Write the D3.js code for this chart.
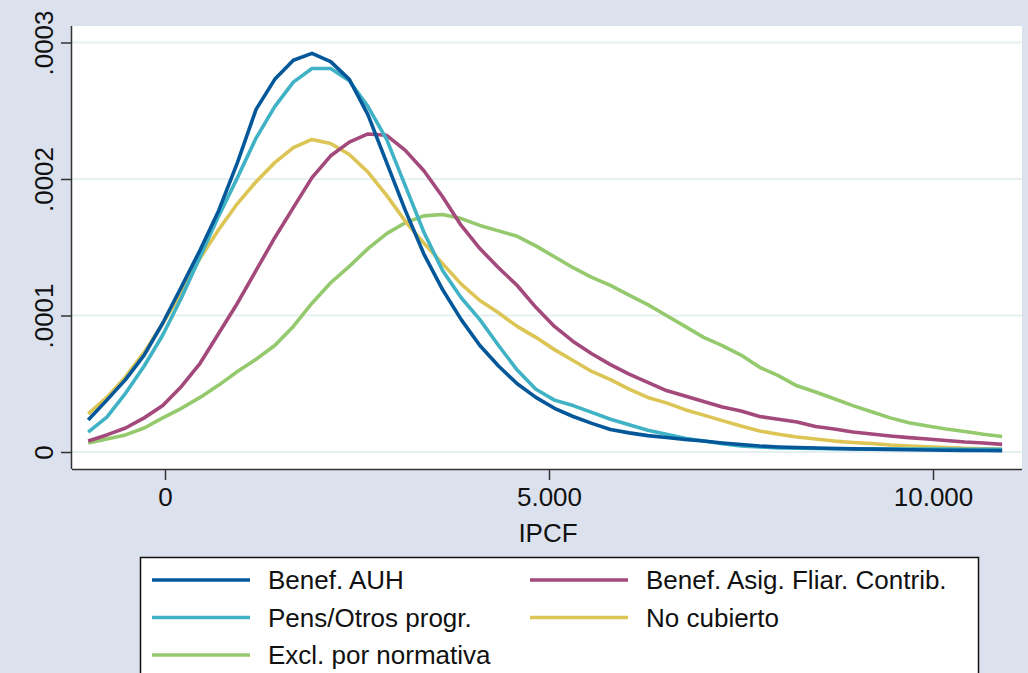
<!DOCTYPE html>
<html>
<head>
<meta charset="utf-8">
<script src="https://cdn.jsdelivr.net/npm/d3@7"></script>
<style>
html,body{margin:0;padding:0;background:#dce1ee;}
svg{display:block;font-family:"Liberation Sans",Arial,Helvetica,sans-serif;}
</style>
</head>
<body>
<svg id="chart" width="1028" height="673"></svg>
<script>
// ---- data ----
const xGrid = [-1000,-757,-514,-271,-29,214,457,700,943,1186,1429,1671,1914,2157,2400,2643,2886,3129,3371,3614,3857,4100,4343,4586,4829,5071,5314,5557,5800,6043,6286,6529,6771,7014,7257,7500,7743,7986,8229,8471,8714,8957,9200,9443,9686,9929,10171,10414,10657,10900];

const benefAUH = [2.34e-5,3.8e-5,5.3e-5,7.1e-5,9.45e-5,1.21e-4,1.48e-4,1.77e-4,2.12e-4,2.51e-4,2.73e-4,2.87e-4,2.92e-4,2.86e-4,2.73e-4,2.47e-4,2.12e-4,1.77e-4,1.45e-4,1.19e-4,9.7e-5,7.8e-5,6.3e-5,5.0e-5,4.0e-5,3.2e-5,2.6e-5,2.1e-5,1.65e-5,1.4e-5,1.2e-5,1.06e-5,9.2e-6,8.0e-6,6.6e-6,5.5e-6,4.4e-6,3.7e-6,3.3e-6,2.9e-6,2.6e-6,2.3e-6,2.1e-6,1.9e-6,1.7e-6,1.5e-6,1.3e-6,1.2e-6,1.1e-6,1.0e-6];

const pensOtros = [1.46e-5,2.56e-5,4.3e-5,6.3e-5,8.57e-5,1.13e-4,1.43e-4,1.73e-4,2.01e-4,2.3e-4,2.53e-4,2.71e-4,2.81e-4,2.81e-4,2.72e-4,2.53e-4,2.29e-4,1.95e-4,1.61e-4,1.33e-4,1.13e-4,9.7e-5,7.8e-5,6.0e-5,4.6e-5,3.8e-5,3.4e-5,2.9e-5,2.4e-5,2.0e-5,1.6e-5,1.3e-5,1.0e-5,8.0e-6,6.0e-6,4.4e-6,3.7e-6,3.0e-6,2.7e-6,2.6e-6,2.5e-6,2.4e-6,2.3e-6,2.2e-6,2.2e-6,2.1e-6,2.1e-6,2.0e-6,2.0e-6,2.0e-6];

const exclNormativa = [6.6e-6,9.5e-6,1.25e-5,1.76e-5,2.5e-5,3.2e-5,4.0e-5,4.9e-5,5.9e-5,6.8e-5,7.8e-5,9.2e-5,1.09e-4,1.24e-4,1.36e-4,1.49e-4,1.6e-4,1.68e-4,1.73e-4,1.74e-4,1.71e-4,1.66e-4,1.62e-4,1.58e-4,1.51e-4,1.43e-4,1.35e-4,1.28e-4,1.22e-4,1.15e-4,1.08e-4,1.0e-4,9.2e-5,8.4e-5,7.8e-5,7.1e-5,6.2e-5,5.6e-5,4.85e-5,4.4e-5,3.9e-5,3.4e-5,2.95e-5,2.5e-5,2.15e-5,1.9e-5,1.68e-5,1.5e-5,1.3e-5,1.14e-5];

const asigFliar = [8.0e-6,1.25e-5,1.76e-5,2.5e-5,3.4e-5,4.8e-5,6.5e-5,8.7e-5,1.09e-4,1.33e-4,1.57e-4,1.79e-4,2.01e-4,2.17e-4,2.27e-4,2.33e-4,2.32e-4,2.21e-4,2.06e-4,1.87e-4,1.66e-4,1.49e-4,1.35e-4,1.22e-4,1.06e-4,9.2e-5,8.1e-5,7.2e-5,6.4e-5,5.7e-5,5.1e-5,4.5e-5,4.1e-5,3.7e-5,3.3e-5,3.0e-5,2.6e-5,2.4e-5,2.2e-5,1.87e-5,1.68e-5,1.47e-5,1.32e-5,1.17e-5,1.05e-5,9.5e-6,8.4e-6,7.3e-6,6.6e-6,5.6e-6];

const noCubierto = [2.8e-5,4.0e-5,5.5e-5,7.3e-5,9.4e-5,1.17e-4,1.42e-4,1.63e-4,1.82e-4,1.98e-4,2.12e-4,2.23e-4,2.29e-4,2.26e-4,2.18e-4,2.05e-4,1.88e-4,1.69e-4,1.53e-4,1.38e-4,1.23e-4,1.11e-4,1.02e-4,9.2e-5,8.4e-5,7.5e-5,6.7e-5,5.9e-5,5.3e-5,4.6e-5,4.0e-5,3.6e-5,3.1e-5,2.7e-5,2.3e-5,1.9e-5,1.54e-5,1.3e-5,1.1e-5,9.5e-6,8.0e-6,7.0e-6,6.2e-6,5.1e-6,4.4e-6,3.9e-6,3.3e-6,2.8e-6,2.3e-6,2.0e-6];

const seriesNames = ["Benef. AUH","Benef. Asig. Fliar. Contrib.","Pens/Otros progr.","No cubierto","Excl. por normativa"];
const seriesValues = [benefAUH, asigFliar, pensOtros, noCubierto, exclNormativa];
const seriesColors = ["#04589a","#a3497b","#40b2c5","#dcc554","#94ca6d"];
// drawing order (back to front)
const drawOrder = [4,3,1,2,0];

const xTicks = [0,5000,10000];
const yTicks = [0,0.0001,0.0002,0.0003];
const xTitle = "IPCF";

// ---- chart ----
const svg = d3.select("#chart");
const plot = {left:72, right:1022, top:26, bottom:469};

const x = d3.scaleLinear().domain([0,10000]).range([165,933]);
const y = d3.scaleLinear().domain([0,0.0003]).range([452,42.5]);

svg.append("rect").attr("width",1028).attr("height",673).attr("fill","#dce1ee");
svg.append("rect").attr("x",plot.left).attr("y",plot.top)
  .attr("width",plot.right-plot.left).attr("height",plot.bottom-plot.top).attr("fill","#ffffff");

// gridlines
svg.append("g").selectAll("line").data(yTicks).join("line")
  .attr("x1",plot.left).attr("x2",plot.right)
  .attr("y1",d=>y(d)).attr("y2",d=>y(d))
  .attr("stroke","#e6eff1").attr("stroke-width",2);

// lines
const line = d3.line().x((d,i)=>x(xGrid[i])).y(d=>y(d)).curve(d3.curveLinear);
svg.append("g").selectAll("path").data(drawOrder).join("path")
  .attr("d",i=>line(seriesValues[i]))
  .attr("fill","none")
  .attr("stroke",i=>seriesColors[i])
  .attr("stroke-width",3.6)
  .attr("stroke-linejoin","round");

// axes
const loc = d3.formatLocale({decimal:",",thousands:".",grouping:[3],currency:["$",""]});
const xFmt = loc.format(",");
const yFmt = d => d===0 ? "0" : d3.format(".4f")(d).replace(/^0/,"");

const xAxis = svg.append("g").attr("transform",`translate(0,${plot.bottom})`)
  .call(d3.axisBottom(x).tickValues(xTicks).tickFormat(xFmt).tickSize(11).tickPadding(8));
xAxis.select(".domain").attr("d",`M${plot.left},0.5H${plot.right}`).attr("stroke","#333").attr("stroke-width",1.5);
xAxis.selectAll(".tick line").attr("stroke","#333").attr("stroke-width",1.5);
xAxis.selectAll(".tick text").attr("font-size",26).attr("fill","#111")
  .attr("font-family","'Liberation Sans',Arial,sans-serif");

const yAxis = svg.append("g").attr("transform",`translate(${plot.left},0)`)
  .call(d3.axisLeft(y).tickValues(yTicks).tickFormat(yFmt).tickSize(11).tickPadding(8));
yAxis.select(".domain").attr("d",`M-0.5,${plot.top}V${plot.bottom}`).attr("stroke","#333").attr("stroke-width",1.5);
yAxis.selectAll(".tick line").attr("stroke","#333").attr("stroke-width",1.5);
yAxis.selectAll(".tick text")
  .attr("font-size",26).attr("fill","#111")
  .attr("font-family","'Liberation Sans',Arial,sans-serif")
  .attr("text-anchor","middle")
  .attr("x",null).attr("dy",null)
  .attr("transform","translate(-19,0) rotate(-90)");

svg.append("text").attr("x",548).attr("y",542).attr("text-anchor","middle")
  .attr("font-size",26).attr("fill","#111").text(xTitle);

// legend
const lg = svg.append("g");
lg.append("rect").attr("x",140.5).attr("y",557.5).attr("width",838).attr("height",130)
  .attr("fill","#ffffff").attr("stroke","#111").attr("stroke-width",1.5);
const legendPos = [[0,0],[1,0],[0,1],[1,1],[0,2]];
const items = lg.selectAll("g.item").data(seriesNames.map((n,i)=>({n,i}))).join("g")
  .attr("transform",d=>`translate(${152+legendPos[d.i][0]*378},${580+legendPos[d.i][1]*37.5})`);
items.append("line").attr("x1",0).attr("x2",98).attr("y1",0).attr("y2",0)
  .attr("stroke",d=>seriesColors[d.i]).attr("stroke-width",3.6);
items.append("text").attr("x",116).attr("y",9).attr("font-size",26).attr("fill","#111")
  .attr("textLength",d=>null)
  .text(d=>d.n);
</script>
</body>
</html>
